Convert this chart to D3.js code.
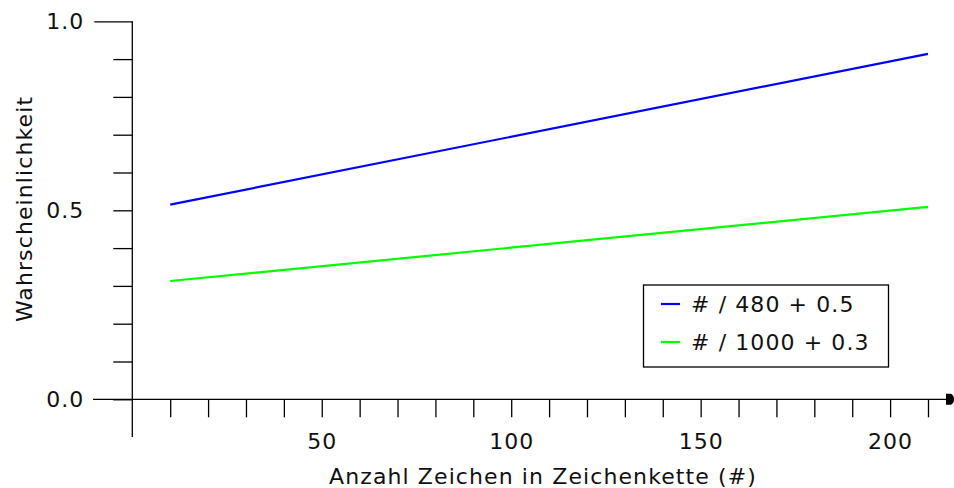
<!DOCTYPE html>
<html lang="de">
<head>
  <meta charset="UTF-8">
  <title>Wahrscheinlichkeit</title>
  <script src="https://d3js.org/d3.v7.min.js"></script>
  <style>
    body { margin: 0; background: #fff; }
    svg { display: block; font-family: "DejaVu Sans", Verdana, sans-serif; }
    .axis text { font-size: 22px; fill: #111; font-family: "DejaVu Sans", Verdana, sans-serif; letter-spacing: 1px; }
    .axis line { stroke: #000; stroke-width: 1.3; }
    .line { fill: none; stroke-width: 2.2; }
    .label { fill: #111; letter-spacing: 1.1px; }
  </style>
</head>
<body>
<script>
  // data
  const xValues = [10, 210];
  const blueValues = [0.515, 0.914];   // # / 480 + 0.5
  const greenValues = [0.313, 0.509];  // # / 1000 + 0.3
  const seriesNames = ['# / 480 + 0.5', '# / 1000 + 0.3'];
  const seriesColors = ['#0000ff', '#00ff00'];
  const xTicks = d3.range(10, 211, 10);
  const xLabels = [50, 100, 150, 200];
  const yTicks = d3.range(0, 11).map(d => d / 10);
  const yLabels = [0, 0.5, 1];

  const width = 954, height = 488;

  const x = d3.scaleLinear().domain([0, 210]).range([132.3, 928]);
  const y = d3.scaleLinear().domain([0, 1]).range([399.3, 21.3]);

  const svg = d3.select('body').append('svg')
    .attr('width', width)
    .attr('height', height);

  // x axis
  const gx = svg.append('g').attr('class', 'axis')
    .attr('transform', `translate(0,${y(0)})`)
    .call(d3.axisBottom(x)
      .tickValues(xTicks)
      .tickSize(18)
      .tickPadding(16)
      .tickFormat(d => xLabels.includes(d) ? d : ''));
  gx.select('.domain').remove();

  svg.append('line')
    .attr('x1', 93).attr('x2', 947)
    .attr('y1', y(0)).attr('y2', y(0))
    .attr('stroke', '#000').attr('stroke-width', 1.3);

  // arrow head at the right end
  svg.append('path')
    .attr('d', `M946,${y(0) - 5.5} L951,${y(0) - 5.5} Q954,${y(0) - 4} 954,${y(0)} Q954,${y(0) + 4} 951,${y(0) + 5.5} L946,${y(0) + 5.5} Z`)
    .attr('fill', '#000');

  // y axis
  const gy = svg.append('g').attr('class', 'axis')
    .attr('transform', `translate(${x(0)},0)`)
    .call(d3.axisLeft(y)
      .tickValues(yTicks)
      .tickSize(19)
      .tickPadding(29)
      .tickFormat(d => yLabels.some(v => Math.abs(v - d) < 1e-9) ? d3.format('.1f')(d) : ''));
  gy.select('.domain').remove();
  gy.selectAll('.tick').filter(d => Math.abs(d - 1) < 1e-9)
    .select('line').attr('x2', -38);

  svg.append('line')
    .attr('x1', x(0)).attr('x2', x(0))
    .attr('y1', y(1)).attr('y2', 437)
    .attr('stroke', '#000').attr('stroke-width', 1.3);

  // axis titles
  svg.append('text')
    .attr('class', 'label')
    .attr('x', 543).attr('y', 484)
    .attr('text-anchor', 'middle')
    .attr('font-size', 22)
    .text('Anzahl Zeichen in Zeichenkette (#)');

  svg.append('text')
    .attr('class', 'label')
    .attr('transform', 'translate(32,209) rotate(-90)')
    .attr('text-anchor', 'middle')
    .attr('font-size', 22)
    .text('Wahrscheinlichkeit');

  // lines
  const line = d3.line()
    .x(d => x(d[0]))
    .y(d => y(d[1]));

  const series = [blueValues, greenValues];
  series.forEach((vals, i) => {
    svg.append('path')
      .datum(xValues.map((v, j) => [v, vals[j]]))
      .attr('class', 'line')
      .attr('stroke', seriesColors[i])
      .attr('d', line);
  });

  // legend
  const legend = svg.append('g');
  legend.append('rect')
    .attr('x', 643.5).attr('y', 285)
    .attr('width', 245).attr('height', 82)
    .attr('fill', '#fff').attr('stroke', '#000').attr('stroke-width', 1.3);

  seriesNames.forEach((name, i) => {
    const ly = 304 + i * 38;
    legend.append('line')
      .attr('x1', 661).attr('x2', 680)
      .attr('y1', ly).attr('y2', ly)
      .attr('stroke', seriesColors[i]).attr('stroke-width', 2.2);
    legend.append('text')
      .attr('class', 'label')
      .attr('x', 691).attr('y', ly + 8)
      .attr('font-size', 22)
      .attr('letter-spacing', 1.5)
      .text(name);
  });
</script>
</body>
</html>
